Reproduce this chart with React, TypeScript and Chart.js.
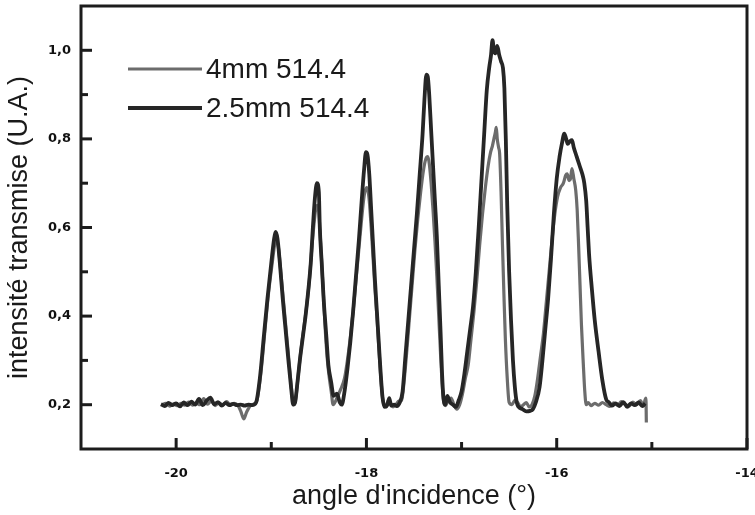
import React, { useEffect, useRef } from "react";
import { Chart, registerables } from "chart.js";

Chart.register(...registerables);

const seriesLabels = ["4mm 514.4", "2.5mm 514.4"];

// 4mm 514.4 (lighter trace)
const angle4mm = [
  -20.15, -20.11, -20.07, -20.03, -19.99, -19.95, -19.91, -19.87, -19.83, -19.79, -19.75, -19.71, -19.67, -19.63,
  -19.59, -19.55, -19.51, -19.47, -19.43, -19.39, -19.35, -19.32, -19.29, -19.26, -19.22, -19.18,
  -19.15, -19.11, -19.07, -19.03, -18.99, -18.965, -18.945, -18.925, -18.9, -18.87, -18.84, -18.81, -18.785, -18.765,
  -18.745, -18.72, -18.69, -18.66, -18.63, -18.6, -18.575, -18.55, -18.53, -18.51, -18.49, -18.47, -18.45, -18.43,
  -18.41, -18.39, -18.37, -18.35, -18.31, -18.27, -18.23, -18.2, -18.17, -18.14, -18.11, -18.08, -18.05, -18.025,
  -18.0, -17.985, -17.97, -17.95, -17.93, -17.91, -17.89, -17.87, -17.85, -17.83, -17.81, -17.79, -17.77, -17.75,
  -17.72, -17.69, -17.66, -17.63, -17.61, -17.58, -17.55, -17.52, -17.49, -17.46, -17.43, -17.4, -17.375, -17.355,
  -17.34, -17.32, -17.3, -17.28, -17.26, -17.24, -17.22, -17.205, -17.19, -17.17, -17.14, -17.11, -17.08, -17.05,
  -17.02, -16.99, -16.96, -16.93, -16.9, -16.87, -16.84, -16.81, -16.78, -16.75, -16.72, -16.695, -16.675, -16.66,
  -16.645, -16.635, -16.625, -16.61, -16.6, -16.585, -16.57, -16.555, -16.54, -16.52, -16.5, -16.47, -16.44, -16.41,
  -16.38, -16.35, -16.32, -16.29, -16.26, -16.23, -16.2, -16.17, -16.14, -16.11, -16.08, -16.05, -16.02, -15.99,
  -15.96, -15.93, -15.905, -15.89, -15.87, -15.855, -15.84, -15.82, -15.8, -15.785, -15.77, -15.755, -15.74, -15.72,
  -15.705, -15.69, -15.67, -15.64, -15.6, -15.56, -15.52, -15.48, -15.44, -15.4, -15.36, -15.32, -15.28, -15.24,
  -15.2, -15.16, -15.12, -15.09, -15.07, -15.062, -15.058,
];
const intens4mm = [
  0.199, 0.203, 0.197, 0.202, 0.198, 0.203, 0.199, 0.206, 0.199, 0.204, 0.2, 0.214, 0.201, 0.209,
  0.198, 0.204, 0.199, 0.207, 0.2, 0.203, 0.198, 0.185, 0.168, 0.183, 0.198, 0.202,
  0.21, 0.27, 0.36, 0.45, 0.52, 0.56, 0.572, 0.555, 0.5, 0.43, 0.36, 0.29, 0.23, 0.2,
  0.21, 0.26, 0.32, 0.37, 0.42, 0.48, 0.55, 0.61, 0.645, 0.65, 0.6, 0.52, 0.44, 0.36,
  0.3, 0.26, 0.23, 0.2, 0.215, 0.235, 0.26, 0.3, 0.35, 0.41, 0.48, 0.55, 0.62, 0.67,
  0.69, 0.685, 0.66, 0.6, 0.53, 0.46, 0.4, 0.33, 0.265, 0.215, 0.2, 0.195, 0.21, 0.205,
  0.195, 0.2, 0.208, 0.21, 0.24, 0.31, 0.39, 0.47, 0.55, 0.62, 0.68, 0.73, 0.755, 0.76,
  0.745, 0.7, 0.64, 0.57, 0.49, 0.4, 0.31, 0.25, 0.21, 0.198, 0.21, 0.215, 0.2, 0.19,
  0.2, 0.225, 0.26, 0.29, 0.35, 0.41, 0.48, 0.56, 0.63, 0.69, 0.74, 0.77, 0.785, 0.8,
  0.815, 0.826, 0.8, 0.78, 0.767, 0.68, 0.56, 0.45, 0.35, 0.26, 0.205, 0.2, 0.21, 0.205,
  0.195, 0.2, 0.205, 0.195, 0.2, 0.22, 0.26, 0.31, 0.36, 0.43, 0.5, 0.57, 0.63, 0.67,
  0.69, 0.7, 0.718, 0.721, 0.706, 0.71, 0.733, 0.71, 0.684, 0.64, 0.56, 0.47, 0.38, 0.29,
  0.23, 0.2, 0.205, 0.198, 0.203, 0.199, 0.205, 0.2, 0.196, 0.204, 0.199, 0.207, 0.201, 0.197,
  0.206, 0.2, 0.209, 0.198, 0.212, 0.215, 0.16,
];

// 2.5mm 514.4 (dark trace)
const angle25mm = [
  -20.16, -20.12, -20.08, -20.04, -20.0, -19.96, -19.92, -19.88, -19.84, -19.8, -19.76, -19.72, -19.68, -19.64,
  -19.6, -19.56, -19.52, -19.48, -19.44, -19.4, -19.36, -19.32, -19.28, -19.24, -19.2,
  -19.16, -19.12, -19.08, -19.04, -19.0, -18.97, -18.955, -18.935, -18.91, -18.88, -18.85, -18.82, -18.79, -18.77,
  -18.75, -18.73, -18.7, -18.67, -18.64, -18.61, -18.585, -18.56, -18.54, -18.52, -18.5, -18.49, -18.47, -18.45,
  -18.42, -18.4, -18.37, -18.345, -18.31, -18.28, -18.26,
  -18.23, -18.2, -18.17, -18.14, -18.11, -18.08, -18.05, -18.025, -18.005, -17.99, -17.97, -17.95, -17.93, -17.91,
  -17.89, -17.87, -17.85, -17.83, -17.81, -17.78, -17.76, -17.74, -17.71, -17.68, -17.65,
  -17.62, -17.59, -17.56, -17.53, -17.5, -17.47, -17.44, -17.41, -17.39, -17.37, -17.355, -17.34, -17.32, -17.3,
  -17.28, -17.26, -17.24, -17.22, -17.205, -17.19, -17.17, -17.15, -17.12, -17.09, -17.06, -17.03,
  -17.0, -16.97, -16.94, -16.91, -16.88, -16.85, -16.82, -16.79, -16.76, -16.735, -16.71, -16.69, -16.675, -16.66,
  -16.645, -16.625, -16.605, -16.585, -16.565, -16.55, -16.535, -16.52, -16.5, -16.48, -16.46, -16.44, -16.42,
  -16.4, -16.36, -16.32, -16.28, -16.25, -16.22,
  -16.18, -16.15, -16.12, -16.09, -16.06, -16.03, -16.0, -15.97, -15.945, -15.92, -15.9, -15.885, -15.86, -15.84,
  -15.82, -15.79, -15.76, -15.73, -15.71, -15.69, -15.675, -15.66, -15.63, -15.6, -15.56, -15.52, -15.48, -15.45,
  -15.42, -15.38, -15.34, -15.3, -15.26, -15.22, -15.18, -15.14, -15.1, -15.07,
];
const intens25mm = [
  0.201, 0.197, 0.204, 0.199, 0.203, 0.196, 0.205, 0.199, 0.207, 0.2, 0.213, 0.199, 0.209, 0.216,
  0.201, 0.206, 0.198, 0.204, 0.199, 0.202, 0.199, 0.2, 0.198, 0.2, 0.199,
  0.205, 0.26, 0.35, 0.44, 0.52, 0.575, 0.59, 0.575, 0.52, 0.44, 0.37, 0.3, 0.235, 0.2,
  0.205, 0.24, 0.3, 0.35, 0.4, 0.46, 0.52, 0.61, 0.67, 0.7, 0.68, 0.6, 0.52, 0.44,
  0.35, 0.29, 0.25, 0.22, 0.225, 0.205, 0.2,
  0.23, 0.28, 0.34, 0.41, 0.49, 0.57, 0.66, 0.73, 0.77, 0.765, 0.72, 0.64, 0.56, 0.48,
  0.41, 0.34, 0.27, 0.215, 0.195, 0.2, 0.215, 0.198, 0.2, 0.197, 0.205,
  0.23, 0.31, 0.39, 0.47, 0.55, 0.63, 0.72, 0.81, 0.89, 0.945, 0.94, 0.9, 0.82, 0.74,
  0.66, 0.58, 0.47, 0.36, 0.27, 0.215, 0.2, 0.22, 0.205, 0.2, 0.195, 0.21,
  0.23, 0.27, 0.32, 0.37, 0.42, 0.5, 0.6, 0.71, 0.82, 0.91, 0.96, 0.99, 1.023, 1.0,
  0.993, 1.01, 0.99, 0.975, 0.96, 0.915, 0.8, 0.65, 0.5, 0.39, 0.3, 0.24, 0.205,
  0.195, 0.19, 0.185, 0.186, 0.19, 0.205,
  0.24, 0.3, 0.37, 0.44, 0.53, 0.63, 0.71, 0.76, 0.79, 0.812, 0.8, 0.789, 0.795, 0.797,
  0.78, 0.76, 0.74, 0.72, 0.7, 0.66, 0.6, 0.54, 0.46, 0.39, 0.32, 0.255, 0.212, 0.205,
  0.198, 0.203, 0.197, 0.206, 0.195, 0.203, 0.199, 0.205, 0.197, 0.203,
];

const seriesColors = ["#6c6c6c", "#262626"];
const seriesWidths = [3.2, 3.8];

const xTickValues = [-20, -18, -16, -14];
const xTickLabels = ["-20", "-18", "-16", "-14"];
const xMinorTicks = [-19, -17, -15];
const yTickValues = [0.2, 0.4, 0.6, 0.8, 1.0];
const yTickLabels = ["0,2", "0,4", "0,6", "0,8", "1,0"];
const yMinorTicks = [0.3, 0.5, 0.7, 0.9];
const xTitle = "angle d'incidence (°)";
const yTitle = "intensité transmise (U.A.)";

const framePlugin = {
  id: "frameTicks",
  afterDraw(chart: any) {
    const { ctx, chartArea, scales } = chart;
    const { left, right, top, bottom } = chartArea;
    const x = scales.x;
    const y = scales.y;
    ctx.save();
    ctx.strokeStyle = "#1c1c1c";
    ctx.lineWidth = 3;
    ctx.lineCap = "butt";
    ctx.strokeRect(left, top, right - left, bottom - top);
    const vline = (v: number, len: number) => {
      const p = x.getPixelForValue(v);
      ctx.beginPath();
      ctx.moveTo(p, bottom);
      ctx.lineTo(p, bottom - len);
      ctx.stroke();
    };
    const hline = (v: number, len: number) => {
      const p = y.getPixelForValue(v);
      ctx.beginPath();
      ctx.moveTo(left, p);
      ctx.lineTo(left + len, p);
      ctx.stroke();
    };
    xTickValues.forEach((v) => vline(v, 11));
    xMinorTicks.forEach((v) => vline(v, 7));
    yTickValues.forEach((v) => hline(v, 11));
    yMinorTicks.forEach((v) => hline(v, 7));
    ctx.restore();
  },
};

const legendPlugin = {
  id: "insideLegend",
  afterDraw(chart: any) {
    const { ctx, chartArea } = chart;
    const x0 = chartArea.left + 47;
    const y0 = chartArea.top + 63;
    ctx.save();
    chart.data.datasets.forEach((ds: any, i: number) => {
      const yy = y0 + i * 39;
      ctx.strokeStyle = ds.borderColor;
      ctx.lineWidth = ds.borderWidth;
      ctx.beginPath();
      ctx.moveTo(x0, yy);
      ctx.lineTo(x0 + 74, yy);
      ctx.stroke();
      ctx.fillStyle = "#1a1a1a";
      ctx.font = "28px 'Liberation Sans', Arial, sans-serif";
      ctx.textBaseline = "middle";
      ctx.textAlign = "left";
      ctx.fillText(ds.label, x0 + 78, yy + 1);
    });
    ctx.restore();
  },
};

export default function App() {
  const canvasRef = useRef<HTMLCanvasElement | null>(null);

  useEffect(() => {
    const canvas = canvasRef.current;
    if (!canvas) return;
    const tickFont = { family: "'DejaVu Sans', sans-serif", weight: "bold" as const, size: 13 };
    const titleFont = { family: "'Liberation Sans', Arial, sans-serif", size: 27 };
    const chart = new Chart(canvas, {
      type: "line",
      data: {
        datasets: [
          {
            label: seriesLabels[0],
            data: angle4mm.map((a, i) => ({ x: a, y: intens4mm[i] })),
            borderColor: seriesColors[0],
            borderWidth: seriesWidths[0],
            pointRadius: 0,
            cubicInterpolationMode: "monotone",
            fill: false,
            order: 1,
          },
          {
            label: seriesLabels[1],
            data: angle25mm.map((a, i) => ({ x: a, y: intens25mm[i] })),
            borderColor: seriesColors[1],
            borderWidth: seriesWidths[1],
            pointRadius: 0,
            cubicInterpolationMode: "monotone",
            fill: false,
            order: 0,
          },
        ],
      },
      options: {
        responsive: false,
        animation: false,
        events: [],
        layout: { padding: { top: 6, right: 8, left: 0, bottom: 0 } },
        plugins: {
          legend: { display: false },
          tooltip: { enabled: false },
        },
        scales: {
          x: {
            type: "linear",
            min: -21,
            max: -14,
            afterBuildTicks: (s: any) => {
              s.ticks = xTickValues.map((v) => ({ value: v }));
            },
            afterFit: (s: any) => {
              s.height = 66;
              s.paddingLeft = 0;
              s.paddingRight = 0;
            },
            ticks: {
              autoSkip: false,
              maxRotation: 0,
              padding: 17,
              color: "#111",
              font: tickFont,
              callback: (v: any) => xTickLabels[xTickValues.indexOf(Number(v))],
            },
            grid: { display: false, drawTicks: false },
            border: { display: false },
            title: {
              display: true,
              text: xTitle,
              color: "#1a1a1a",
              font: titleFont,
              padding: { top: 0, bottom: 2 },
            },
          },
          y: {
            type: "linear",
            min: 0.1,
            max: 1.1,
            afterBuildTicks: (s: any) => {
              s.ticks = yTickValues.map((v) => ({ value: v }));
            },
            afterFit: (s: any) => {
              s.width = 81;
              s.paddingTop = 0;
              s.paddingBottom = 0;
            },
            ticks: {
              autoSkip: false,
              padding: 10,
              color: "#111",
              font: tickFont,
              callback: (v: any) => {
                const idx = yTickValues.findIndex((t) => Math.abs(t - Number(v)) < 1e-6);
                return idx >= 0 ? yTickLabels[idx] : "";
              },
            },
            grid: { display: false, drawTicks: false },
            border: { display: false },
            title: {
              display: true,
              text: yTitle,
              color: "#1a1a1a",
              font: titleFont,
              padding: { top: 3, bottom: 0 },
            },
          },
        },
      },
      plugins: [framePlugin, legendPlugin],
    });
    return () => chart.destroy();
  }, []);

  return (
    <div style={{ position: "absolute", left: 0, top: 0, width: 755, height: 515, background: "#fff" }}>
      <canvas ref={canvasRef} width={755} height={515} style={{ display: "block" }} />
    </div>
  );
}
